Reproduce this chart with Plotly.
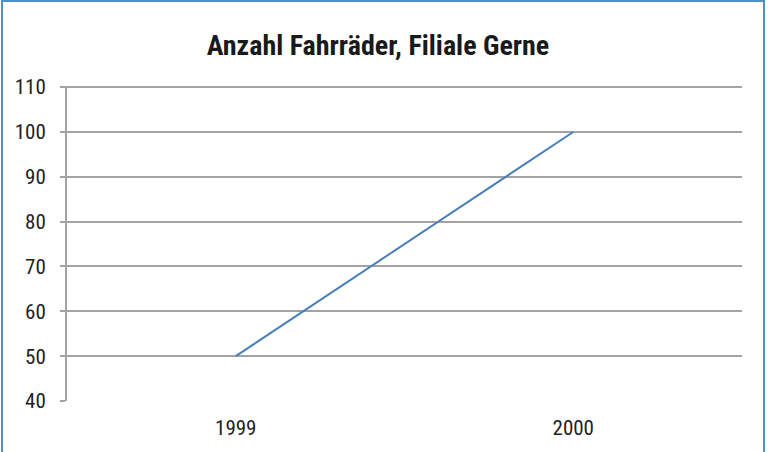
import plotly.graph_objects as go

years = ["1999", "2000"]
bikes = [50, 100]
y_ticks = [40, 50, 60, 70, 80, 90, 100, 110]

W, H = 768, 452
L, R, T, B = 67, 26, 86, 51
pw, ph = W - L - R, H - T - B

def px_x(p):
    return (p - L) / pw

def px_y(p):
    return (H - B - p) / ph

COND = "Liberation Sans Narrow, Roboto Condensed, Arial Narrow, sans-serif"
GRID = "#a3a3a3"

fig = go.Figure()
fig.add_trace(go.Scatter(
    x=years, y=bikes, mode="lines",
    line=dict(color="#4a7ebb", width=2),
    showlegend=False, hoverinfo="skip"))

fig.update_layout(
    width=W, height=H,
    margin=dict(l=L, r=R, t=T, b=B),
    paper_bgcolor="white", plot_bgcolor="white",
    title=dict(text="<b>Anzahl Fahrräder, Filiale Gerne</b>",
               xref="container", x=378 / W, xanchor="center",
               yref="container", y=1 - 45 / H, yanchor="middle",
               font=dict(family=COND, size=28, color="#1a1a1a")),
    font=dict(family=COND, size=21, color="#222222"),
    xaxis=dict(type="category", range=[-0.5, 1.5], showgrid=False,
               showline=False, ticks="", ticklabelstandoff=12,
               tickfont=dict(size=21)),
    yaxis=dict(range=[40, 110.25], tickvals=y_ticks, showgrid=True,
               gridcolor=GRID, gridwidth=2,
               showline=True, linecolor=GRID, linewidth=2,
               ticks="outside", ticklen=5, tickcolor=GRID, tickwidth=2,
               ticklabelstandoff=10, zeroline=False, tickfont=dict(size=21)),
    shapes=[dict(type="rect", xref="paper", yref="paper",
                 x0=px_x(2), x1=px_x(764), y0=px_y(470), y1=px_y(1),
                 line=dict(color="#4a92cc", width=2), layer="above")],
)

fig.write_html("out.html", config={"displayModeBar": False},
               post_script="document.body.style.margin='0';")
